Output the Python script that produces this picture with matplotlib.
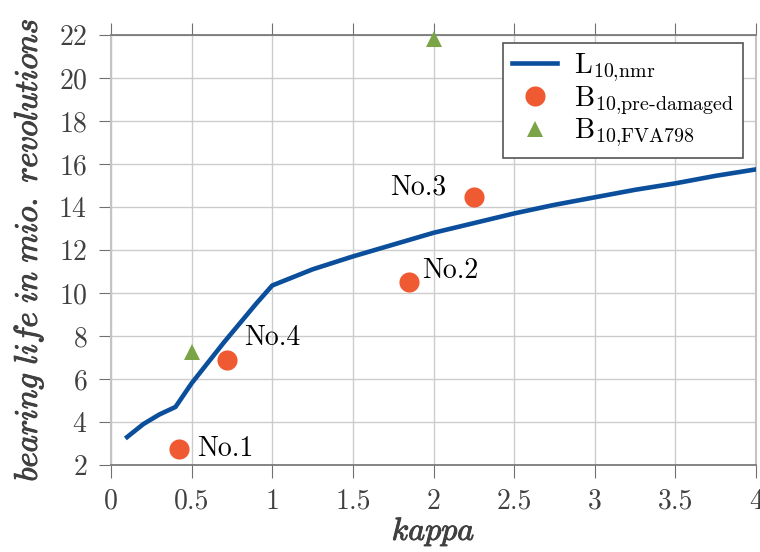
import matplotlib
matplotlib.use('Agg')
import matplotlib.pyplot as plt
import matplotlib.patheffects as pe

plt.rcParams['font.family'] = 'cmr10'
plt.rcParams['mathtext.fontset'] = 'cm'
plt.rcParams['axes.formatter.use_mathtext'] = True

# L10,nmr curve
kappa_nmr = [0.1, 0.2, 0.3, 0.4, 0.5, 0.6, 0.7, 0.8, 0.9, 1.0,
             1.25, 1.5, 1.75, 2.0, 2.25, 2.5, 2.75, 3.0, 3.25, 3.5, 3.75, 4.0]
life_nmr = [3.3, 3.9, 4.35, 4.7, 5.8, 6.75, 7.7, 8.6, 9.5, 10.35,
            11.1, 11.7, 12.25, 12.8, 13.25, 13.7, 14.1, 14.45, 14.8, 15.1, 15.45, 15.75]

# B10 pre-damaged bearings
kappa_pre = [0.42, 0.72, 1.85, 2.25]
life_pre = [2.75, 6.9, 10.5, 14.45]
names_pre = ['No.1', 'No.4', 'No.2', 'No.3']

# B10 FVA798
kappa_fva = [0.5, 2.0]
life_fva = [7.25, 21.8]

blue = '#0b4f9c'
orange = '#f05a32'
green = '#7aa446'
dark = '#404040'

fig = plt.figure(figsize=(7.6, 5.52), dpi=100)
ax = fig.add_axes([111 / 760, 1 - 465 / 552, 645 / 760, 430 / 552])

ax.plot(kappa_nmr, life_nmr, color=blue, lw=3.3, label=r'$\mathrm{L}_{10{,}\mathrm{nmr}}$', zorder=3)
ax.plot(kappa_pre, life_pre, 'o', color=orange, ms=14.5, mew=0,
        label=r'$\mathrm{B}_{10{,}\mathrm{pre}\text{-}\mathrm{damaged}}$', zorder=4)
ax.plot(kappa_fva, life_fva, '^', color=green, ms=12, mew=0,
        label=r'$\mathrm{B}_{10{,}\mathrm{FVA798}}$', zorder=4, clip_on=False)

offsets = {'No.1': (13, 0, 'left'), 'No.4': (12, 16, 'left'),
           'No.2': (9, 8, 'left'), 'No.3': (-20, 7, 'right')}
for k, v, n in zip(kappa_pre, life_pre, names_pre):
    dx, dy, ha = offsets[n]
    ax.annotate(n, (k, v), xytext=(dx, dy), textcoords='offset points',
                ha=ha, va='center', fontsize=20, color='black')

ax.set_xlim(0, 4)
ax.set_ylim(2, 22)
ax.set_xticks([0, 0.5, 1, 1.5, 2, 2.5, 3, 3.5, 4])
ax.set_xticklabels(['0', '0.5', '1', '1.5', '2', '2.5', '3', '3.5', '4'])
ax.set_yticks(range(2, 23, 2))

ax.grid(True, color='#cccccc', lw=1)
ax.set_axisbelow(True)
for s in ['left', 'right']:
    ax.spines[s].set_color('#c4c4c4')
    ax.spines[s].set_linewidth(1.5)
for s in ['top', 'bottom']:
    ax.spines[s].set_color('#707070')
    ax.spines[s].set_linewidth(1.2)

ax.tick_params(axis='both', labelsize=20, colors='#707070', labelcolor=dark)
ax.tick_params(axis='y', direction='out', length=9, pad=8)
ax.tick_params(axis='x', direction='out', length=9, top=True, pad=8)

bold = [pe.withStroke(linewidth=0.7, foreground=dark)]
ax.set_xlabel(r'$\mathit{kappa}$', fontsize=23, color=dark, labelpad=0,
              path_effects=bold)
ax.set_ylabel(r'$\mathit{bearing\ life\ in\ mio.\ revolutions}$', fontsize=23.5,
              color=dark, labelpad=9, path_effects=bold)

leg = ax.legend(loc='upper right', fontsize=20.5, frameon=True, fancybox=False,
                framealpha=1, edgecolor='#555555', handlelength=1.6,
                borderpad=0.3, labelspacing=0.0, handletextpad=0.6,
                borderaxespad=0, bbox_to_anchor=(0.98, 0.981))
leg.get_frame().set_linewidth(1.2)

fig.savefig('out.png', dpi=100)
